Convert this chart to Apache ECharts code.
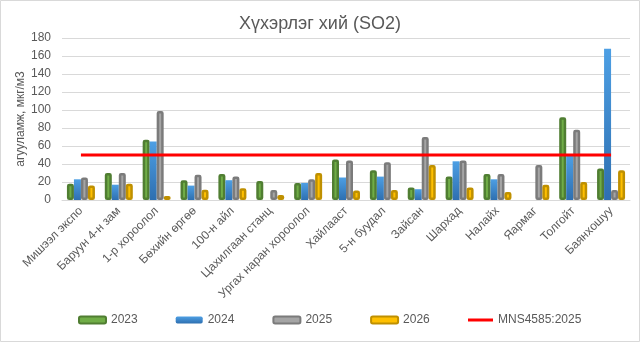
<!DOCTYPE html>
<html>
<head>
<meta charset="utf-8">
<script src="https://cdn.jsdelivr.net/npm/echarts@6/dist/echarts.min.js"></script>
<style>
  html, body { margin: 0; padding: 0; background: #ffffff; }
  #chart { width: 640px; height: 342px; }
</style>
</head>
<body>
<div id="chart"></div>
<script>
// Monitoring stations
const stations = ['Мишээл экспо', 'Баруун 4-н зам', '1-р хороолол', 'Бөхийн өргөө', '100-н айл',
  'Цахилгаан станц', 'Ургах наран хороолол', 'Хайлааст', '5-н буудал', 'Зайсан',
  'Шархад', 'Налайх', 'Яармаг', 'Толгойт', 'Баянхошуу'];

// SO2 concentration per year, µg/m3
const so2_2023 = [18, 30, 67, 22, 29, 21, 19, 45, 33, 14, 26, 29, null, 92, 35];
const so2_2024 = [23, 17, 65, 16, 22, null, 19, 25, 26, 12, 43, 23, null, 49, 168];
const so2_2025 = [25, 30, 99, 28, 26, 11, 23, 44, 42, 70, 44, 29, 39, 78, 11];
const so2_2026 = [16, 18, 4.5, 11.5, 13, 5.5, 30, 10.5, 11, 39, 14, 9, 17, 20, 33];

// Standard limit MNS4585:2025
const limitValue = 50;
const limitLine = stations.map(() => limitValue);

const yTicks = { min: 0, max: 180, interval: 20 };

const txt = '#595959';
const font = 'Liberation Sans, Arial, sans-serif';

function borderedBar(name, data, fill, border) {
  return {
    name, type: 'bar', data,
    barWidth: 7, barGap: '0%',
    itemStyle: { color: fill, borderColor: border, borderWidth: 2.5, borderRadius: 1 }
  };
}

const chart = echarts.init(document.getElementById('chart'), null, { renderer: 'canvas' });
chart.setOption({
  animation: false,
  backgroundColor: '#ffffff',
  title: {
    text: 'Хүхэрлэг хий (SO2)',
    left: 'center', top: 10,
    textStyle: { fontFamily: font, fontSize: 18, fontWeight: 'normal', color: txt }
  },
  graphic: [{
    type: 'rect', silent: true, z: 100,
    shape: { x: 0.5, y: 0.5, width: 639, height: 341 },
    style: { fill: 'none', stroke: '#d9d9d9', lineWidth: 1 }
  }],
  legend: [
    {
      left: 78, top: 314, padding: 0,
      itemWidth: 27, itemHeight: 7, itemGap: 38,
      textStyle: { fontFamily: font, fontSize: 12, color: txt },
      data: ['2023', '2024', '2025', '2026']
    },
    {
      left: 468, top: 314, padding: 0,
      itemWidth: 25, itemHeight: 3,
      icon: 'rect',
      textStyle: { fontFamily: font, fontSize: 12, color: txt },
      data: ['MNS4585:2025']
    }
  ],
  grid: { left: 62, right: 10, top: 38, bottom: 142, containLabel: false },
  xAxis: {
    type: 'category', data: stations,
    axisLine: { lineStyle: { color: '#d9d9d9' } },
    axisTick: { show: false },
    axisLabel: {
      interval: 0, rotate: 45, margin: 9,
      fontFamily: font, fontSize: 12, color: txt
    }
  },
  yAxis: {
    type: 'value', min: yTicks.min, max: yTicks.max, interval: yTicks.interval,
    name: 'агууламж, мкг/м3',
    nameLocation: 'middle', nameGap: 35, nameMoveOverlap: false,
    nameTextStyle: { fontFamily: font, fontSize: 12, color: txt },
    axisLine: { show: false }, axisTick: { show: false },
    axisLabel: { margin: 11, fontFamily: font, fontSize: 12, color: txt },
    splitLine: { lineStyle: { color: '#d9d9d9', width: 1 } }
  },
  series: [
    borderedBar('2023', so2_2023, '#70ad47', '#507e32'),
    {
      name: '2024', type: 'bar', data: so2_2024,
      barWidth: 7, barGap: '0%',
      itemStyle: {
        color: new echarts.graphic.LinearGradient(0, 0, 0, 1, [
          { offset: 0, color: '#4d9fe4' },
          { offset: 1, color: '#2e6fb0' }
        ])
      }
    },
    borderedBar('2025', so2_2025, '#a5a5a5', '#7b7b7b'),
    borderedBar('2026', so2_2026, '#ffc000', '#bf9000'),
    {
      name: 'MNS4585:2025', type: 'line', data: limitLine,
      symbol: 'none', z: 5,
      lineStyle: { color: '#ff0000', width: 3 },
      itemStyle: { color: '#ff0000' }
    }
  ]
});
</script>
</body>
</html>
